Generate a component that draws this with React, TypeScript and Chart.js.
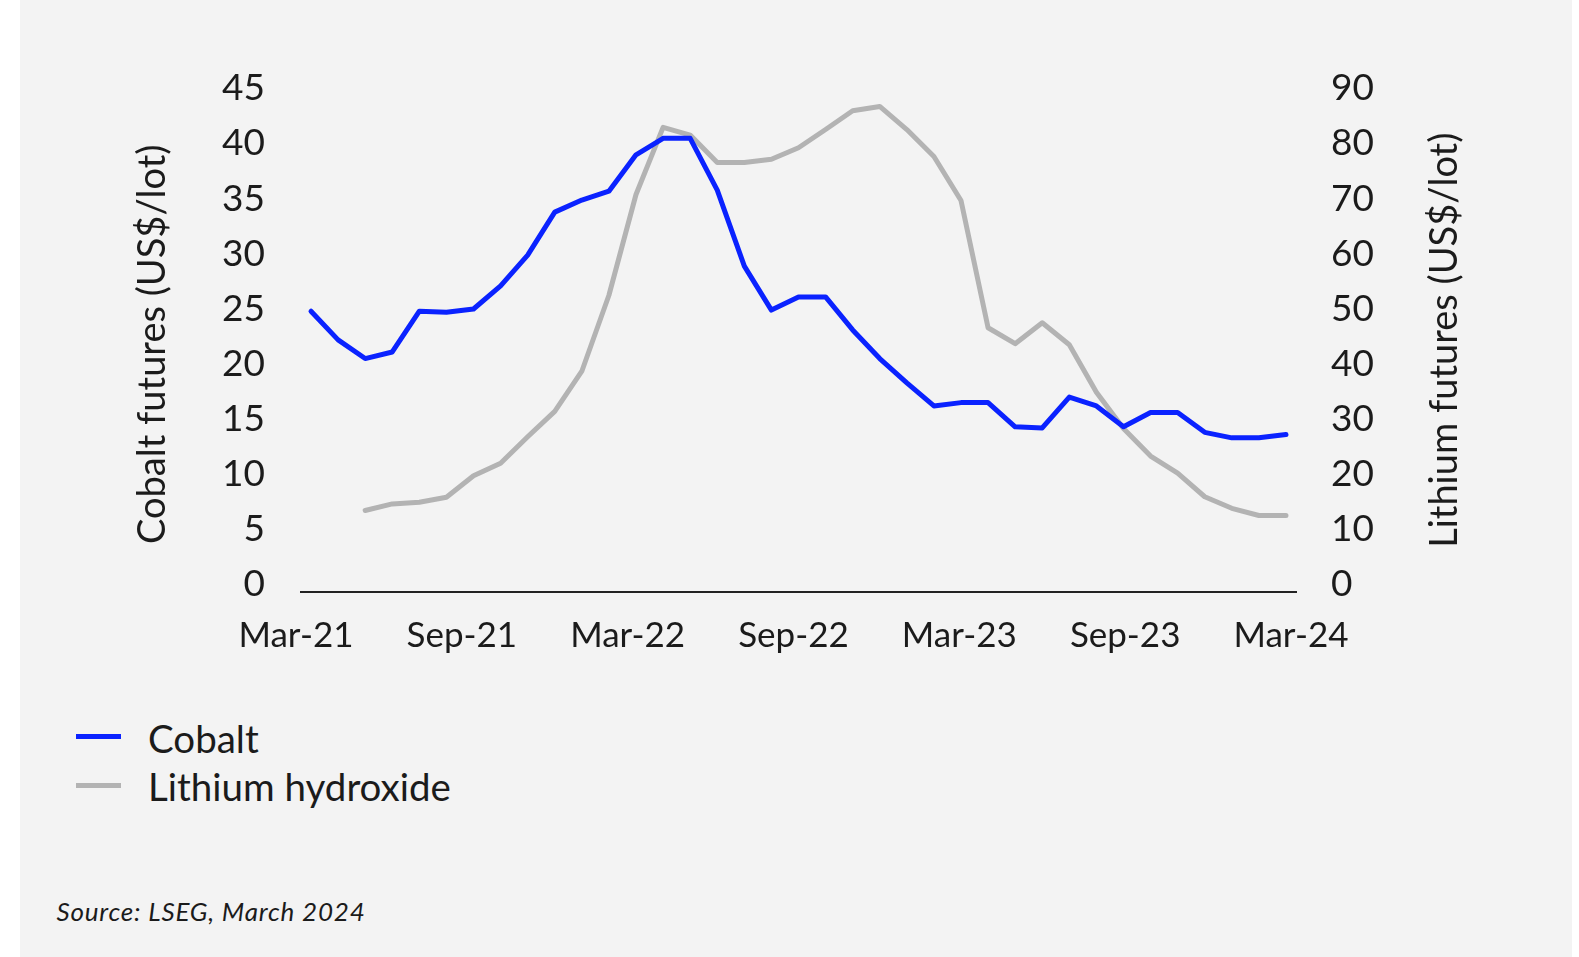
import React, { useEffect, useRef } from "react";
import { Chart, registerables } from "chart.js";

Chart.register(...registerables);

// Monthly categories, Mar-21 .. Mar-24
const months = [
  "Mar-21", "Apr-21", "May-21", "Jun-21", "Jul-21", "Aug-21", "Sep-21", "Oct-21", "Nov-21", "Dec-21",
  "Jan-22", "Feb-22", "Mar-22", "Apr-22", "May-22", "Jun-22", "Jul-22", "Aug-22", "Sep-22", "Oct-22",
  "Nov-22", "Dec-22", "Jan-23", "Feb-23", "Mar-23", "Apr-23", "May-23", "Jun-23", "Jul-23", "Aug-23",
  "Sep-23", "Oct-23", "Nov-23", "Dec-23", "Jan-24", "Feb-24", "Mar-24",
];

const xTickLabels = ["Mar-21", "Sep-21", "Mar-22", "Sep-22", "Mar-23", "Sep-23", "Mar-24"];

// Cobalt futures (US$/lot), left axis
const cobalt = [
  25.5, 22.9, 21.2, 21.8, 25.5, 25.4, 25.7, 27.8, 30.6, 34.5,
  35.6, 36.4, 39.7, 41.2, 41.2, 36.5, 29.6, 25.6, 26.8, 26.8,
  23.8, 21.2, 19.0, 16.9, 17.2, 17.2, 15.0, 14.9, 17.7, 16.9,
  15.0, 16.3, 16.3, 14.5, 14.0, 14.0, 14.3,
];

// Lithium hydroxide futures (US$/lot), right axis
const lithium = [
  null, null, 14.8, 16.0, 16.3, 17.2, 21.1, 23.4, 28.2, 32.8,
  40.1, 53.9, 72.2, 84.4, 83.0, 78.0, 78.0, 78.6, 80.7, 84.0,
  87.4, 88.2, 84.0, 79.1, 71.1, 48.0, 45.1, 48.9, 44.9, 36.3,
  29.7, 24.7, 21.6, 17.3, 15.2, 13.9, 13.9,
];

const seriesNames = ["Cobalt", "Lithium hydroxide"];
const seriesColors = ["#0a22ff", "#b3b3b3"];

const leftAxisTitle = "Cobalt futures (US$/lot)";
const rightAxisTitle = "Lithium futures (US$/lot)";
const sourceText = "Source: LSEG, March 2024";

const FONT = "Lato, 'Open Sans', sans-serif";
const TEXT = "#1b1b1b";

export default function App() {
  const canvasRef = useRef<HTMLCanvasElement | null>(null);

  useEffect(() => {
    const canvas = canvasRef.current;
    if (!canvas) return;

    const rightTitlePlugin = {
      id: "rightTitle",
      afterDraw(chart: any) {
        const { ctx, chartArea } = chart;
        ctx.save();
        ctx.translate(chartArea.right + 148.7, (chartArea.top + chartArea.bottom) / 2 - 4);
        ctx.rotate(-Math.PI / 2);
        ctx.font = `38px ${FONT}`;
        ctx.fillStyle = TEXT;
        ctx.textAlign = "center";
        ctx.textBaseline = "middle";
        ctx.fillText(rightAxisTitle, 0, 0);
        ctx.restore();
      },
    };

    const chart = new Chart(canvas, {
      type: "line",
      data: {
        datasets: [
          {
            label: seriesNames[0],
            data: cobalt.map((v, i) => ({ x: i, y: v })),
            borderColor: seriesColors[0],
            backgroundColor: seriesColors[0],
            borderWidth: 5,
            pointRadius: 0,
            tension: 0,
            yAxisID: "y",
            borderJoinStyle: "round",
            borderCapStyle: "round",
          },
          {
            label: seriesNames[1],
            data: lithium.map((v, i) => ({ x: i, y: v })),
            borderColor: seriesColors[1],
            backgroundColor: seriesColors[1],
            borderWidth: 5,
            pointRadius: 0,
            tension: 0,
            yAxisID: "y1",
            borderJoinStyle: "round",
            borderCapStyle: "round",
          },
        ],
      },
      options: {
        responsive: false,
        animation: false,
        events: [],
        layout: { padding: { left: 100, right: 76, top: 96.5, bottom: 18 } },
        plugins: {
          legend: { display: false },
          tooltip: { enabled: false },
        },
        scales: {
          x: {
            type: "linear",
            min: -0.37,
            max: months.length - 1 + 0.37,
            afterBuildTicks: (scale: any) => {
              const n = xTickLabels.length;
              scale.ticks = xTickLabels.map((_, k) => ({
                value: scale.min + (k * (scale.max - scale.min)) / (n - 1),
              }));
            },
            afterFit: (scale: any) => {
              scale.height = 70;
            },
            ticks: {
              autoSkip: false,
              maxRotation: 0,
              padding: 23,
              labelOffset: -5,
              color: TEXT,
              font: { family: FONT, size: 35 },
              callback: (_v: any, idx: number) => xTickLabels[idx],
            },
            grid: { display: true, color: "rgba(0,0,0,0)", drawTicks: false },
            border: { display: true, color: "#222222", width: 2 },
          },
          y: {
            position: "left",
            min: 0,
            max: 45,
            afterFit: (scale: any) => {
              scale.width = 181;
            },
            ticks: {
              stepSize: 5,
              padding: 36,
              labelOffset: -8,
              color: TEXT,
              font: { family: FONT, size: 37 },
            },
            grid: { display: false, drawTicks: false },
            border: { display: false },
            title: {
              display: true,
              text: leftAxisTitle,
              color: TEXT,
              font: { family: FONT, size: 38 },
              padding: { top: 10, bottom: 0 },
            },
          },
          y1: {
            position: "right",
            min: 0,
            max: 90,
            afterFit: (scale: any) => {
              scale.width = 200;
            },
            ticks: {
              stepSize: 10,
              padding: 35,
              labelOffset: -8,
              color: TEXT,
              font: { family: FONT, size: 37 },
            },
            grid: { display: false, drawTicks: false },
            border: { display: false },
          },
        },
      },
      plugins: [rightTitlePlugin],
    } as any);

    return () => chart.destroy();
  }, []);

  const legendCenters = [736, 785.5];
  const textCenters = [738, 786];

  return (
    <div
      style={{
        position: "fixed",
        left: 0,
        top: 0,
        width: 1579,
        height: 957,
        background: "#ffffff",
        overflow: "hidden",
      }}
    >
      <div
        style={{
          position: "absolute",
          left: 20,
          top: 0,
          width: 1552,
          height: 957,
          background: "#f3f3f3",
        }}
      >
        <canvas
          ref={canvasRef}
          width={1552}
          height={680}
          style={{ position: "absolute", left: 0, top: 0, width: 1552, height: 680 }}
        />
        {seriesNames.map((name, i) => (
          <React.Fragment key={name}>
            <div
              style={{
                position: "absolute",
                left: 56,
                top: legendCenters[i] - 2.5,
                width: 45,
                height: 5,
                background: seriesColors[i],
              }}
            />
            <div
              style={{
                position: "absolute",
                left: 128,
                top: textCenters[i] - 25,
                height: 50,
                display: "flex",
                alignItems: "center",
                fontFamily: FONT,
                fontSize: 38.5,
                color: TEXT,
                whiteSpace: "nowrap",
              }}
            >
              {name}
            </div>
          </React.Fragment>
        ))}
        <div
          style={{
            position: "absolute",
            left: 36.5,
            top: 911 - 20,
            height: 40,
            display: "flex",
            alignItems: "center",
            fontFamily: FONT,
            fontStyle: "italic",
            fontSize: 26,
            letterSpacing: 0.8,
            color: TEXT,
            whiteSpace: "nowrap",
          }}
        >
          {sourceText}
        </div>
      </div>
    </div>
  );
}
